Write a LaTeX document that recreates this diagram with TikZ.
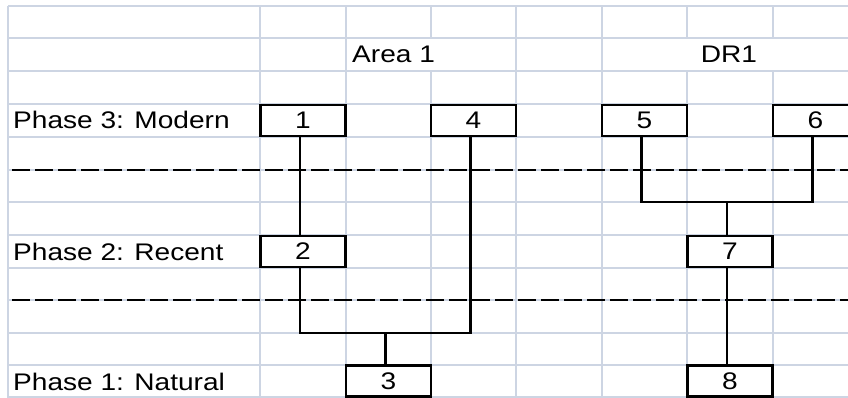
\documentclass[tikz,border=0pt]{standalone}
\usepackage{fontspec}
\newfontfamily\cellfont[FakeStretch=1.17]{Liberation Sans}
\definecolor{gridc}{HTML}{CDD5E3}
\begin{document}
\begin{tikzpicture}[x=1pt,y=-1pt,
  gridline/.style={draw=gridc,line width=2.2pt},
  cellbox/.style={draw=black,fill=white,line width=2.8pt,minimum width=85pt,minimum height=31pt,inner sep=0pt,font=\cellfont\fontsize{24}{28}\selectfont},
  celltext/.style={anchor=base west,inner sep=0pt,font=\cellfont\fontsize{24}{28}\selectfont},
  link/.style={line width=2.4pt},
  sepline/.style={line width=2.8pt,dash pattern=on 18pt off 5pt}]
\useasboundingbox (0,0) rectangle (848,398);
\clip (0,0) rectangle (848,398);
\fill[white] (0,0) rectangle (848,398);
% spreadsheet grid
\foreach \x in {8,260,346,431,516,602,687,773} \draw[gridline] (\x,6) -- (\x,399);
\foreach \y in {6,38,71,104,137,170,202,235,268,300,333,365,397} \draw[gridline] (8,\y) -- (849,\y);
% grid segments hidden by cell text
\fill[white] (429.5,39.3) rectangle (432.5,69.7);
\fill[white] (685.5,39.3) rectangle (688.5,69.7);
\fill[white] (771.5,39.3) rectangle (774.5,69.7);
% phase separators
\coordinate (s1a) at (12,170); \coordinate (s1b) at (849,170);
\coordinate (s2a) at (12,300); \coordinate (s2b) at (849,300);
\draw[sepline] (s1a) -- (s1b);
\draw[sepline] (s2a) -- (s2b);
% labels
\node[celltext] (p3) at (13,129) {Phase 3: Modern};
\node[celltext] (p2) at (13,260) {Phase 2: Recent};
\node[celltext] (p1) at (13,390) {Phase 1: Natural};
\node[celltext] (a1) at (352,63) {Area 1};
\node[celltext,anchor=base] (dr) at (729,63) {DR1};
% boxes
\node[cellbox] (b1) at (303,120.5) {1};
\node[cellbox] (b4) at (473.5,120.5) {4};
\node[cellbox] (b5) at (644.5,120.5) {5};
\node[cellbox] (b6) at (815.5,120.5) {6};
\node[cellbox] (b2) at (303,251.5) {2};
\node[cellbox] (b7) at (730,251.5) {7};
\node[cellbox] (b3) at (388.5,381) {3};
\node[cellbox] (b8) at (730,381) {8};
% connectors
\coordinate (j1) at (385.5,333);
\coordinate (j2) at (727,202);
\draw[link] ([xshift=-3pt]b1.south) -- ([xshift=-3pt]b2.north);
\draw[link] ([xshift=-3pt]b2.south) |- (j1) -| ([xshift=-3pt]b4.south);
\draw[link] ([xshift=-3pt]b3.north) -- (j1);
\draw[link] ([xshift=-3pt]b5.south) |- (j2) -| ([xshift=-3pt]b6.south);
\draw[link] ([xshift=-3pt]b7.north) -- (j2);
\draw[link] ([xshift=-3pt]b7.south) -- ([xshift=-3pt]b8.north);
\end{tikzpicture}
\end{document}
